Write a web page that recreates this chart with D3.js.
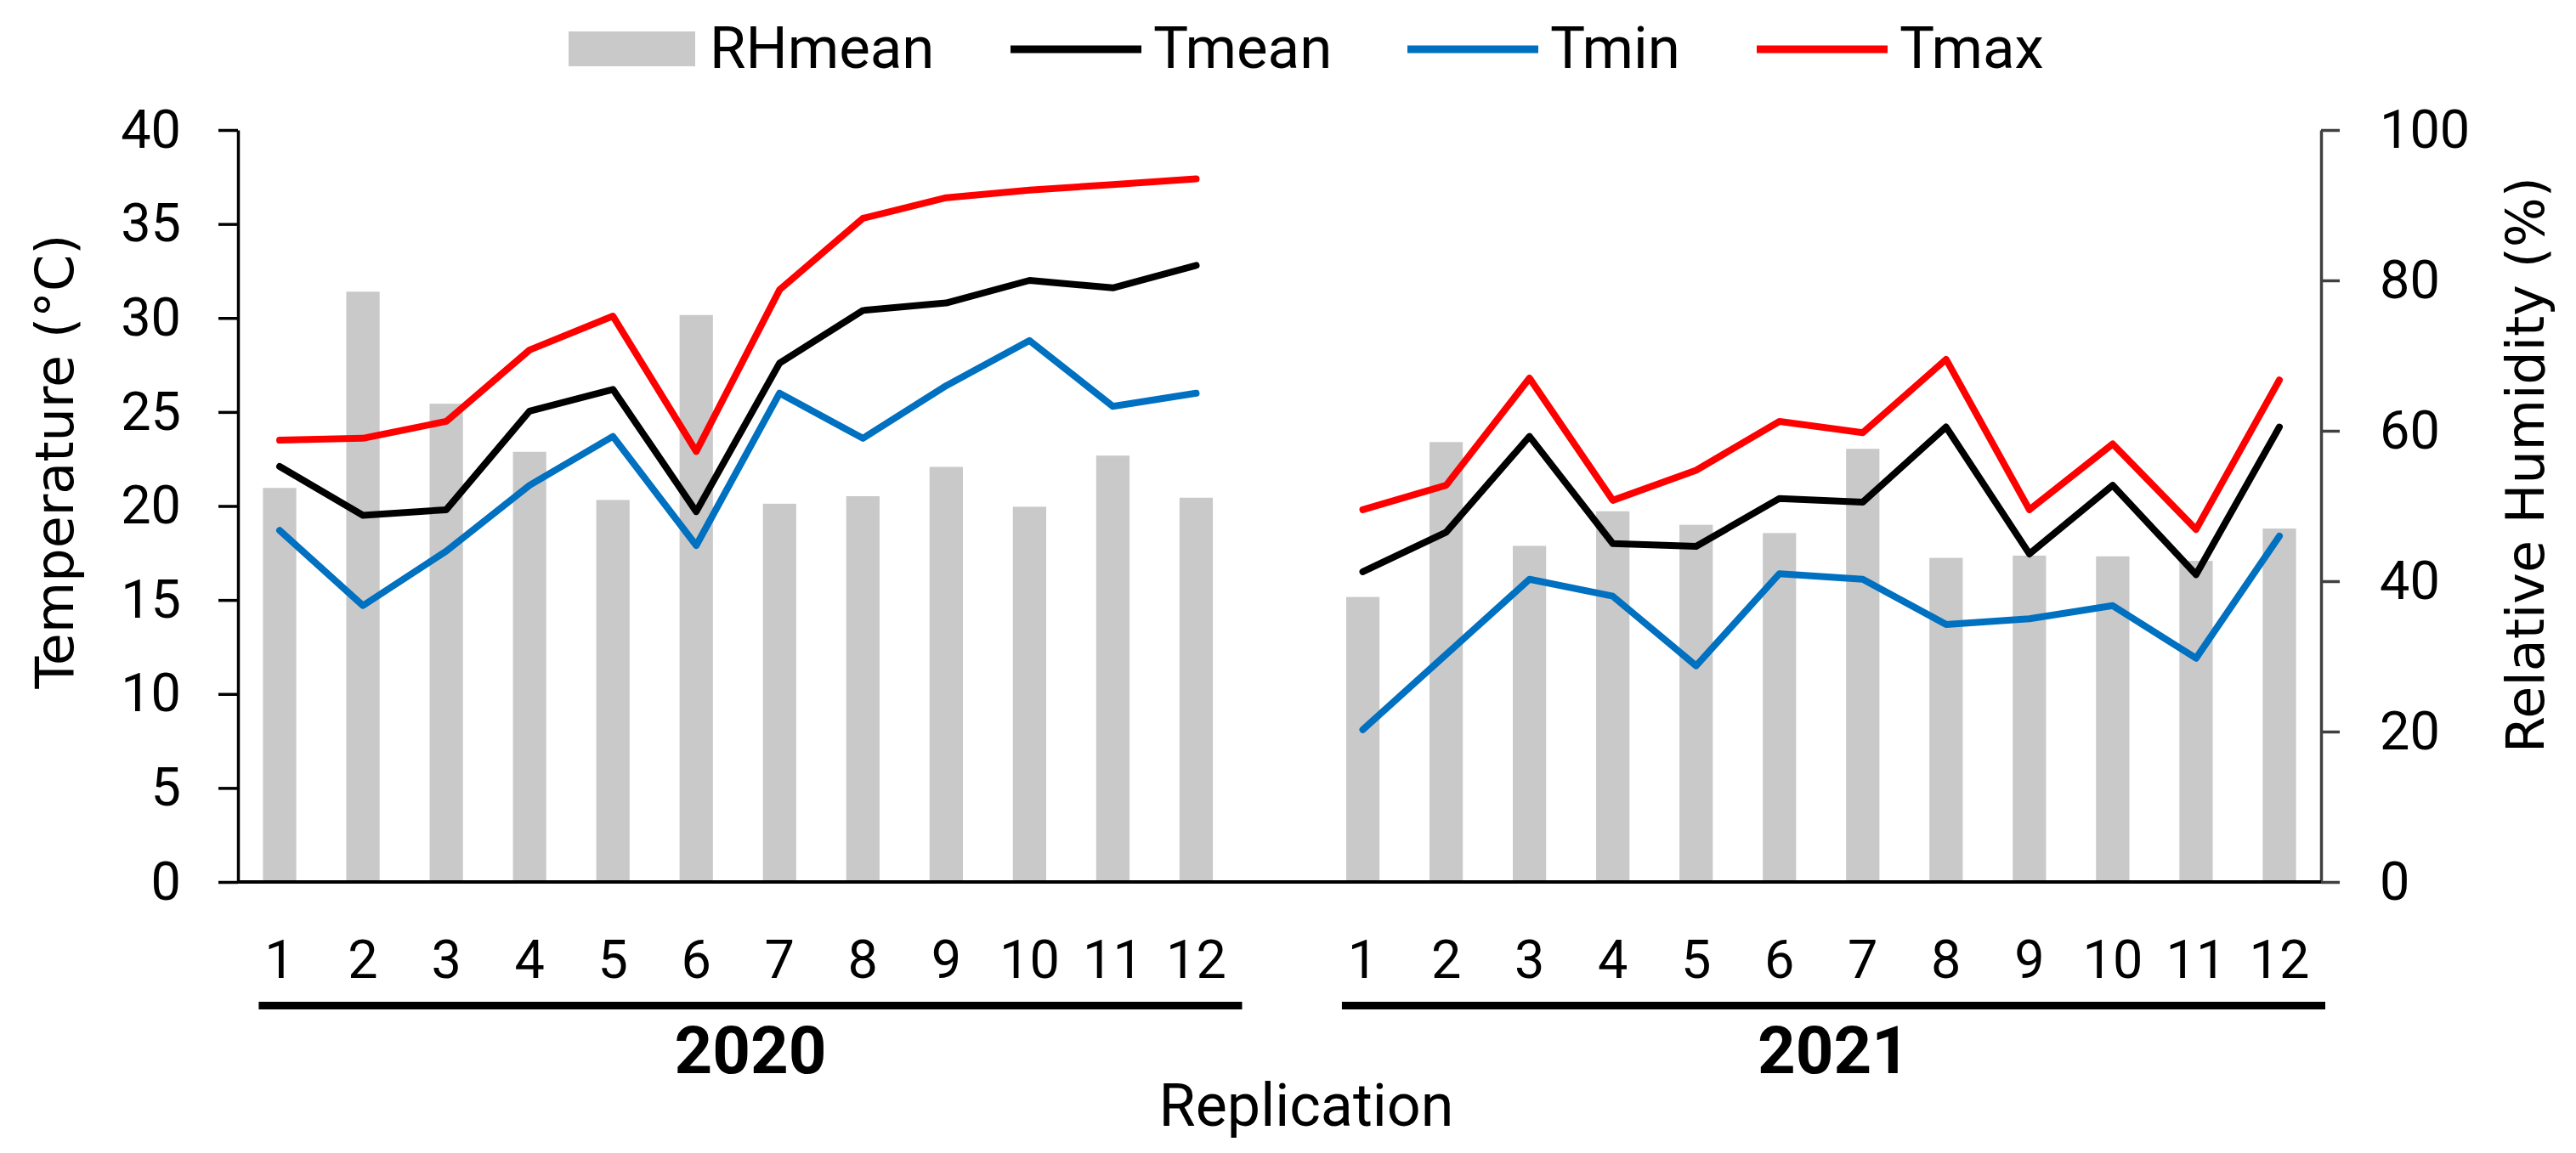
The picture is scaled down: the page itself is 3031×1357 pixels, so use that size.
<!DOCTYPE html>
<html>
<head>
<meta charset="utf-8">
<script src="https://cdn.jsdelivr.net/npm/d3@7"></script>
<style>
  body { margin: 0; background: #fff; }
  text { font-family: Roboto, "Noto Sans", sans-serif; fill: #000; }
  .title { font-family: "DejaVu Sans", Verdana, sans-serif; }
</style>
</head>
<body>
<svg id="chart"></svg>
<script>
const width = 3031;
const height = 1357;

// data
const years = ["2020", "2021"];
const reps = d3.range(1, 13);

const rh2020 = [52.4, 78.5, 63.6, 57.2, 50.8, 75.4, 50.3, 51.3, 55.2, 49.9, 56.7, 51.1];
const rh2021 = [37.9, 58.5, 44.7, 49.3, 47.5, 46.4, 57.6, 43.1, 43.4, 43.3, 42.7, 47.0];

const tmean2020 = [22.1, 19.5, 19.8, 25.05, 26.2, 19.7, 27.6, 30.4, 30.8, 32.0, 31.6, 32.8];
const tmean2021 = [16.5, 18.6, 23.7, 18.0, 17.85, 20.4, 20.2, 24.2, 17.45, 21.1, 16.35, 24.2];

const tmin2020 = [18.7, 14.7, 17.6, 21.1, 23.7, 17.9, 26.0, 23.6, 26.4, 28.8, 25.3, 26.0];
const tmin2021 = [8.1, 12.1, 16.1, 15.2, 11.5, 16.4, 16.1, 13.7, 14.0, 14.7, 11.9, 18.4];

const tmax2020 = [23.5, 23.6, 24.5, 28.3, 30.1, 22.9, 31.5, 35.3, 36.4, 36.8, 37.1, 37.4];
const tmax2021 = [19.8, 21.1, 26.8, 20.3, 21.9, 24.5, 23.9, 27.8, 19.8, 23.3, 18.75, 26.7];

const tempTicks = d3.range(0, 41, 5);
const rhTicks = d3.range(0, 101, 20);

const series = [
  { name: "Tmean", color: "#000000", values: { "2020": tmean2020, "2021": tmean2021 } },
  { name: "Tmin", color: "#0070C0", values: { "2020": tmin2020, "2021": tmin2021 } },
  { name: "Tmax", color: "#FF0000", values: { "2020": tmax2020, "2021": tmax2021 } },
];
const rhByYear = { "2020": rh2020, "2021": rh2021 };

const barColor = "#c9c9c9";

const margin = { left: 280, right: 300, top: 153, bottom: 319 };
const plotBottom = height - margin.bottom;

// 25 slots: 12 + empty gap + 12
const keys = [
  ...reps.map((r) => "2020-" + r),
  "gap",
  ...reps.map((r) => "2021-" + r),
];

const svg = d3.select("#chart").attr("width", width).attr("height", height);

const x = d3
  .scaleBand()
  .domain(keys)
  .range([margin.left, width - margin.right])
  .paddingInner(0.6)
  .paddingOuter(0.3);

const yT = d3.scaleLinear().domain([0, 40]).range([plotBottom, margin.top]);
const yRH = d3.scaleLinear().domain([0, 100]).range([plotBottom, margin.top]);

const cx = (k) => x(k) + x.bandwidth() / 2;

// bars
years.forEach((yr) => {
  svg
    .append("g")
    .selectAll("rect")
    .data(rhByYear[yr])
    .enter()
    .append("rect")
    .attr("x", (d, i) => x(yr + "-" + reps[i]))
    .attr("width", x.bandwidth())
    .attr("y", (d) => yRH(d))
    .attr("height", (d) => yRH(0) - yRH(d))
    .attr("fill", barColor);
});

// lines
const line = d3
  .line()
  .x((d) => cx(d.k))
  .y((d) => yT(d.v));

series.forEach((s) => {
  years.forEach((yr) => {
    const pts = s.values[yr].map((v, i) => ({ k: yr + "-" + reps[i], v: v }));
    svg
      .append("path")
      .datum(pts)
      .attr("d", line)
      .attr("fill", "none")
      .attr("stroke", s.color)
      .attr("stroke-width", 8)
      .attr("stroke-linejoin", "round")
      .attr("stroke-linecap", "round");
  });
});

// left axis
const leftAxis = svg
  .append("g")
  .attr("transform", `translate(${margin.left},0)`)
  .call(
    d3.axisLeft(yT).tickValues(tempTicks).tickSize(23).tickSizeOuter(0).tickPadding(44)
  );
leftAxis.select(".domain").attr("stroke", "#000").attr("stroke-width", 3.5);
leftAxis.selectAll(".tick line").attr("stroke", "#000").attr("stroke-width", 3.5);
leftAxis.selectAll(".tick text").style("font-size", "63px").attr("font-family", null);

// right axis
const rightAxis = svg
  .append("g")
  .attr("transform", `translate(${width - margin.right},0)`)
  .call(
    d3.axisRight(yRH).tickValues(rhTicks).tickSize(22).tickSizeOuter(0).tickPadding(47)
  );
rightAxis.select(".domain").attr("stroke", "#404040").attr("stroke-width", 3.5);
rightAxis.selectAll(".tick line").attr("stroke", "#404040").attr("stroke-width", 3.5);
rightAxis.selectAll(".tick text").style("font-size", "63px").attr("font-family", null);

// bottom axis line
svg
  .append("line")
  .attr("x1", margin.left)
  .attr("x2", width - margin.right)
  .attr("y1", plotBottom)
  .attr("y2", plotBottom)
  .attr("stroke", "#000")
  .attr("stroke-width", 4);

// category labels
const bottomAxis = svg
  .append("g")
  .attr("transform", `translate(0,${plotBottom})`)
  .call(
    d3
      .axisBottom(x)
      .tickSize(0)
      .tickFormat((k) => (k === "gap" ? "" : k.split("-")[1]))
  );
bottomAxis.select(".domain").remove();
bottomAxis
  .selectAll(".tick text")
  .attr("font-family", null)
  .style("font-size", "63px")
  .attr("dy", null)
  .attr("y", 113);

// year brackets
years.forEach((yr) => {
  const x0 = x(yr + "-1") - 5;
  const x1 = x(yr + "-12") + x.step() * 0.7 + 5;
  svg
    .append("rect")
    .attr("x", x0)
    .attr("y", 1179)
    .attr("width", x1 - x0)
    .attr("height", 9)
    .attr("fill", "#000");
  svg
    .append("text")
    .attr("x", (x0 + x1) / 2)
    .attr("y", 1263)
    .attr("text-anchor", "middle")
    .style("font-size", "78px")
    .style("font-weight", "bold")
    .text(yr);
});

// axis titles
svg
  .append("text")
  .attr("class", "title")
  .attr("transform", "translate(86,543) rotate(-90)")
  .attr("text-anchor", "middle")
  .style("font-size", "62px")
  .text("Temperature (°C)");

svg
  .append("text")
  .attr("class", "title")
  .attr("transform", "translate(2993,547) rotate(-90)")
  .attr("text-anchor", "middle")
  .style("font-size", "62px")
  .text("Relative Humidity (%)");

svg
  .append("text")
  .attr("x", 1537)
  .attr("y", 1325)
  .attr("text-anchor", "middle")
  .style("font-size", "70px")
  .text("Replication");

// legend
const legendItems = [
  { name: "RHmean", type: "bar", color: barColor, x: 669 },
  { name: "Tmean", type: "line", color: "#000000", x: 1189 },
  { name: "Tmin", type: "line", color: "#0070C0", x: 1656 },
  { name: "Tmax", type: "line", color: "#FF0000", x: 2067 },
];

const legend = svg.append("g");
legendItems.forEach((d) => {
  if (d.type === "bar") {
    legend
      .append("rect")
      .attr("x", d.x)
      .attr("y", 37)
      .attr("width", 149)
      .attr("height", 41)
      .attr("fill", d.color);
  } else {
    legend
      .append("line")
      .attr("x1", d.x)
      .attr("x2", d.x + 154)
      .attr("y1", 58)
      .attr("y2", 58)
      .attr("stroke", d.color)
      .attr("stroke-width", 9);
  }
  legend
    .append("text")
    .attr("x", d.x + (d.type === "bar" ? 166 : 168))
    .attr("y", 80)
    .style("font-size", "69px")
    .text(d.name);
});
</script>
</body>
</html>
